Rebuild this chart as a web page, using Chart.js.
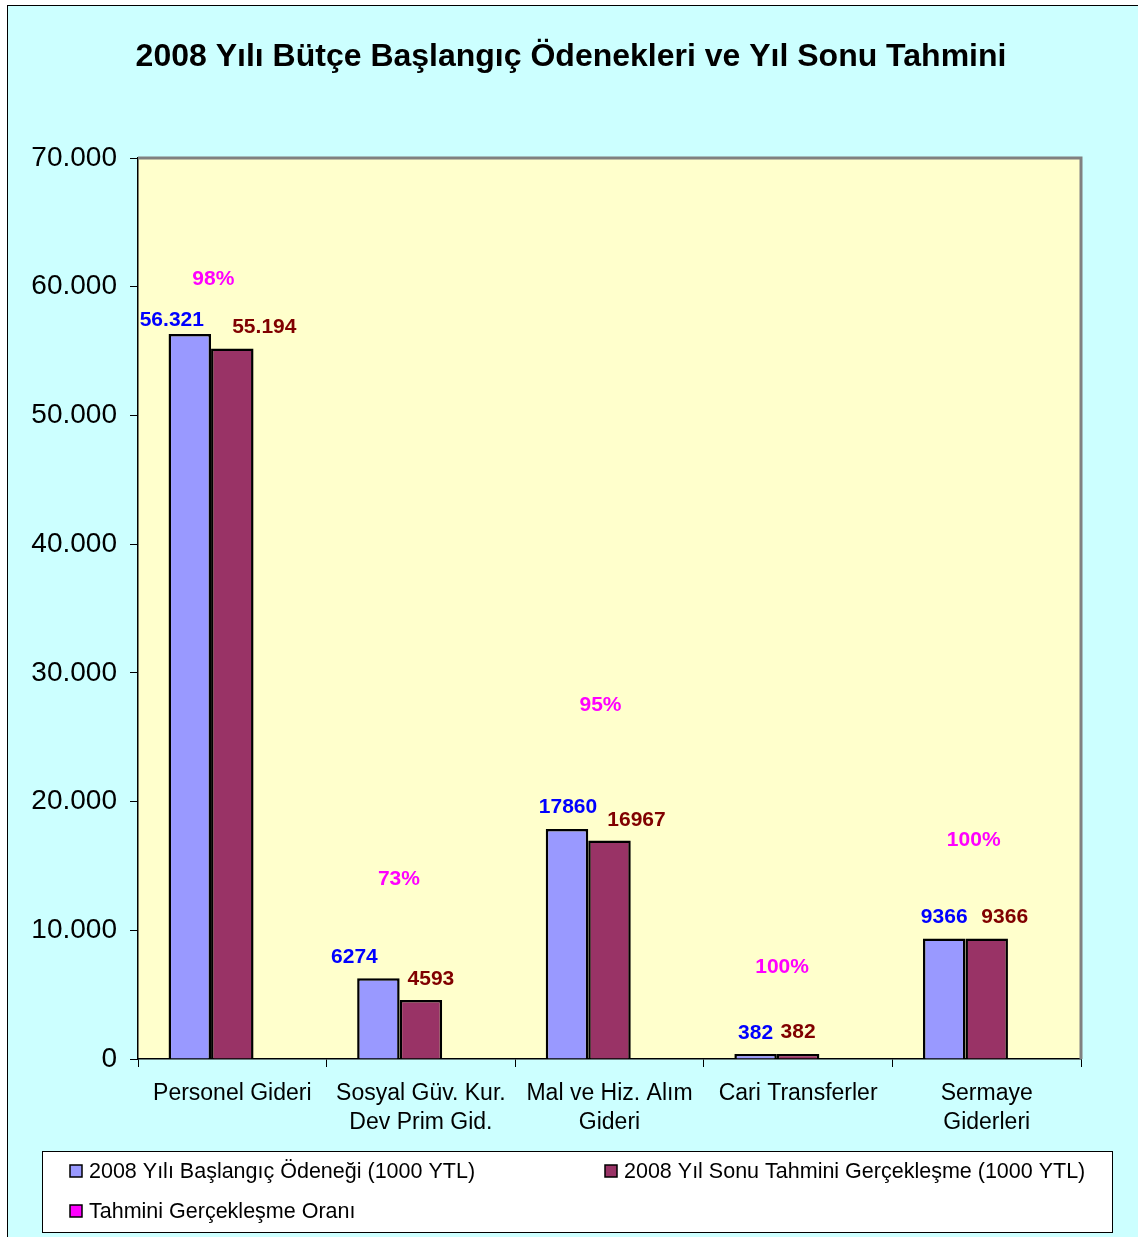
<!DOCTYPE html>
<html>
<head>
<meta charset="utf-8">
<script src="https://cdn.jsdelivr.net/npm/chart.js@4.4.0/dist/chart.umd.min.js"></script>
<style>
  html, body { margin: 0; padding: 0; background: #fff; overflow: hidden; }
  #frame { position: absolute; left: 7px; top: 5px; width: 1140px; height: 1240px; border: 1px solid #000; background: #CCFFFF; }
  #c { position: absolute; left: 0; top: 0; }
</style>
</head>
<body>
<div id="frame"></div>
<canvas id="c" width="1138" height="1237"></canvas>
<script>
// veri
const categories = [
  "Personel Gideri",
  ["Sosyal Güv. Kur.", "Dev Prim Gid."],
  ["Mal ve Hiz. Alım", "Gideri"],
  "Cari Transferler",
  ["Sermaye", "Giderleri"]
];
const allocation = [56321, 6274, 17860, 382, 9366];
const yearEnd = [55194, 4593, 16967, 382, 9366];
const ratio = [0.98, 0.73, 0.95, 1.00, 1.00];
const allocationText = ["56.321", "6274", "17860", "382", "9366"];
const yearEndText = ["55.194", "4593", "16967", "382", "9366"];
const ratioText = ["98%", "73%", "95%", "100%", "100%"];
const yMax = 70000;
const yStep = 10000;

const seriesNames = [
  "2008 Yılı Başlangıç Ödeneği (1000 YTL)",
  "2008 Yıl Sonu Tahmini Gerçekleşme (1000 YTL)",
  "Tahmini Gerçekleşme Oranı"
];

const FONT = "'Liberation Sans', Arial, sans-serif";

function dotted(v) {
  return String(v).replace(/\B(?=(\d{3})+(?!\d))/g, ".");
}

// etiket yerleri (Excel'de elle taşınmış)
const labelStyle = {
  dx: [[-18, -24, 1, 0, 0], [32, 10, 27, 0, 18]],
  gap: [[8, 15, 16, 15, 15], [16, 15, 15, 16, 15]],
  pctLevel: [60600, 13985, 27500, 7150, 17015],
  pctDx: [-19, -22, -9, -16, -13]
};

const decorPlugin = {
  id: "decor",
  beforeDraw(chart) {
    const { ctx, chartArea: a } = chart;
    ctx.save();
    ctx.fillStyle = "#FFFFCC";
    ctx.fillRect(a.left, a.top, a.right - a.left, a.bottom - a.top);
    ctx.restore();
  },
  afterDatasetsDraw(chart) {
    const { ctx, chartArea: a, scales } = chart;
    ctx.save();
    // çerçeve üst/sağ
    ctx.strokeStyle = "#808080";
    ctx.lineWidth = 3;
    ctx.beginPath();
    ctx.moveTo(a.left, a.top);
    ctx.lineTo(a.right, a.top);
    ctx.lineTo(a.right, a.bottom);
    ctx.stroke();

    // başlık
    ctx.fillStyle = "#000";
    ctx.font = "bold 32px " + FONT;
    ctx.textAlign = "center";
    ctx.textBaseline = "middle";
    ctx.fillText("2008 Yılı Bütçe Başlangıç Ödenekleri ve Yıl Sonu Tahmini", 571, 57);

    // değer etiketleri
    ctx.font = "bold 21px " + FONT;
    ctx.textBaseline = "alphabetic";
    const texts = [allocationText, yearEndText];
    const colors = ["#0000FF", "#800000"];
    [0, 1].forEach(d => {
      chart.getDatasetMeta(d).data.forEach((bar, i) => {
        ctx.fillStyle = colors[d];
        ctx.fillText(texts[d][i], bar.x + labelStyle.dx[d][i], bar.y - labelStyle.gap[d][i]);
      });
    });

    // oran etiketleri
    ctx.fillStyle = "#FF00FF";
    ctx.textBaseline = "middle";
    chart.getDatasetMeta(1).data.forEach((bar, i) => {
      const y = scales.y.getPixelForValue(labelStyle.pctLevel[i]);
      ctx.fillText(ratioText[i], bar.x + labelStyle.pctDx[i], y);
    });

    // lejant
    const lx = 42, ly = 1151, lw = 1070, lh = 81;
    ctx.fillStyle = "#fff";
    ctx.fillRect(lx, ly, lw, lh);
    ctx.strokeStyle = "#000";
    ctx.lineWidth = 1;
    ctx.strokeRect(lx + 0.5, ly + 0.5, lw, lh);
    const items = [[70, 1171], [605, 1171], [70, 1211]];
    ctx.font = "21.5px " + FONT;
    ctx.textAlign = "left";
    chart.data.datasets.forEach((ds, i) => {
      const [x, y] = items[i];
      ctx.fillStyle = ds.legendColor;
      ctx.fillRect(x, y - 6, 12, 12);
      ctx.strokeStyle = "#000";
      ctx.lineWidth = 1.5;
      ctx.strokeRect(x, y - 6, 12, 12);
      ctx.fillStyle = "#000";
      ctx.fillText(ds.label, x + 19, y + 1);
    });
    ctx.restore();
  }
};

new Chart(document.getElementById("c"), {
  type: "bar",
  data: {
    labels: categories,
    datasets: [
      { label: seriesNames[0], data: allocation, backgroundColor: "#9999FF", legendColor: "#9999FF", borderColor: "#000", borderWidth: 2.5 },
      { label: seriesNames[1], data: yearEnd, backgroundColor: "#993366", legendColor: "#993366", borderColor: "#000", borderWidth: 2.5 },
      { label: seriesNames[2], data: ratio, backgroundColor: "rgba(0,0,0,0)", legendColor: "#FF00FF", borderWidth: 0 }
    ]
  },
  options: {
    responsive: false,
    animation: false,
    devicePixelRatio: 1,
    layout: { padding: { top: 158, right: 57, bottom: 0, left: 0 } },
    datasets: { bar: { categoryPercentage: 0.676, barPercentage: 1 } },
    plugins: {
      legend: { display: false },
      title: { display: false },
      tooltip: { enabled: false }
    },
    scales: {
      x: {
        afterFit(scale) { scale.height = 178; },
        grid: { display: true, drawOnChartArea: false, drawTicks: true, tickLength: 8, color: "#000", offset: true },
        border: { color: "#000", width: 1.5 },
        ticks: { color: "#000", padding: 12, maxRotation: 0, autoSkip: false, font: { family: FONT, size: 23, lineHeight: 1.26 }, callback: function (v, i) { return categories[i]; } }
      },
      y: {
        min: 0,
        max: yMax,
        afterFit(scale) { scale.width = 138; },
        grid: { display: true, drawOnChartArea: false, drawTicks: true, tickLength: 8, color: "#000" },
        border: { color: "#000", width: 1.5 },
        ticks: { stepSize: yStep, color: "#000", padding: 13, font: { family: FONT, size: 28 }, callback: v => dotted(v) }
      }
    }
  },
  plugins: [decorPlugin]
});
</script>
</body>
</html>
